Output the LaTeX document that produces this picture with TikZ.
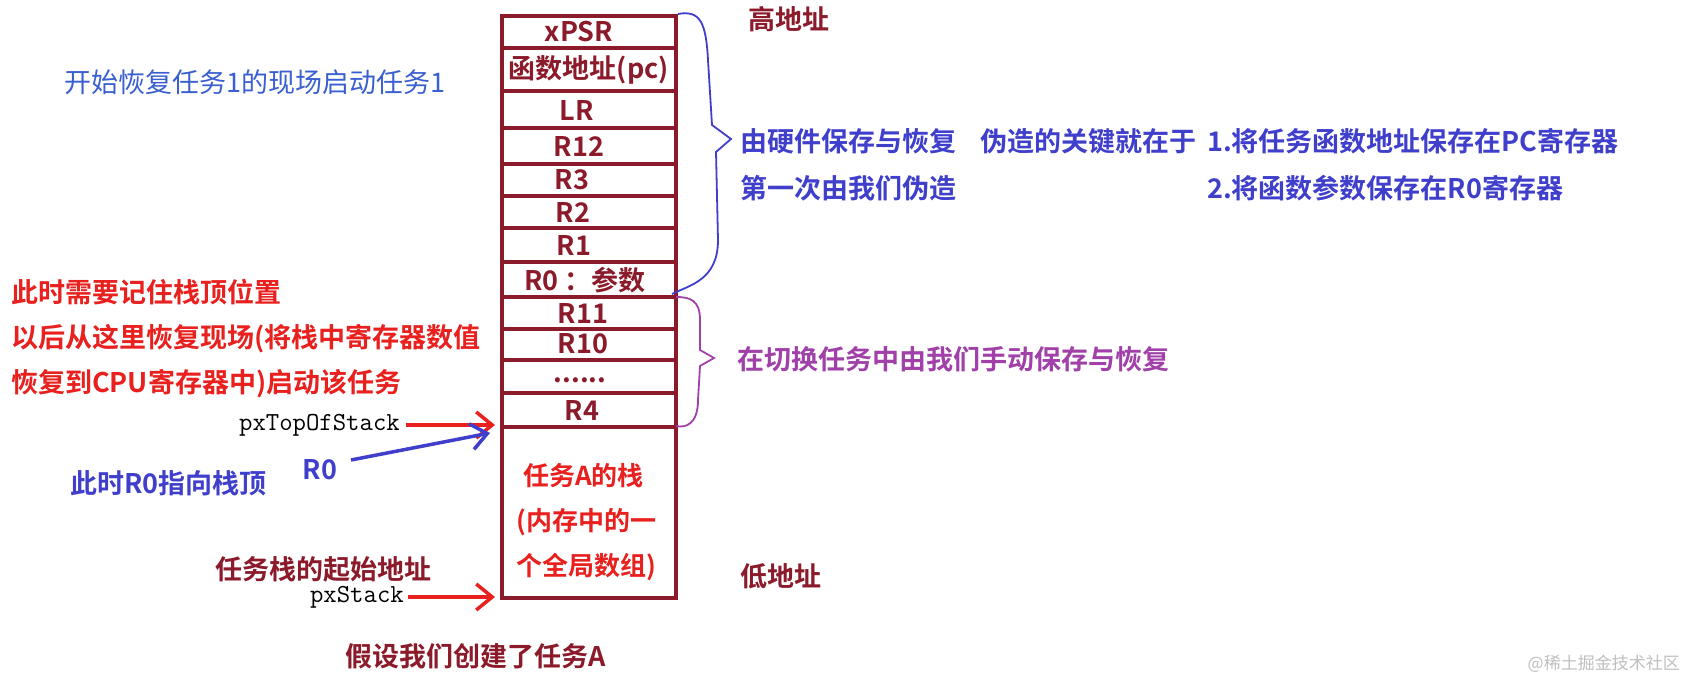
\documentclass[tikz,border=0pt]{standalone}
\usepackage{fontspec}
\setmainfont{Noto Sans CJK SC}
\newfontfamily\cjkb{Noto Sans CJK SC Bold}
\usetikzlibrary{arrows.meta}
\definecolor{dred}{HTML}{8B1A2A}
\definecolor{myblue}{HTML}{3F3FCC}
\definecolor{lblue}{HTML}{3A5FD0}
\definecolor{myred}{HTML}{E8201E}
\definecolor{mypur}{HTML}{A040A8}
\tikzset{
 reg/.style={font=\cjkb\fontsize{27}{29}\selectfont,text=dred,inner sep=0pt},
 rowline/.style={draw=dred,line width=4pt},
 bt/.style={font=\cjkb\fontsize{27}{30}\selectfont,inner sep=0pt,anchor=west},
 code/.style={font=\ttfamily\fontsize{26}{28}\selectfont,inner sep=0pt},
 arr/.style={line width=3.5pt,-{Straight Barb[length=16pt,width=26pt,line width=3.5pt]}}
}
\begin{document}
\begin{tikzpicture}[x=1pt,y=-1pt]
\useasboundingbox[fill=white] (0,0) rectangle (1684,679);
% stack box
\draw[rowline] (502,16) rectangle (676,598);
\foreach \y in {48,91,128,164,196,228,262,297,329,360,393,427}
  \draw[rowline] (502,\y) -- (676,\y);
\node[reg] (xpsr) at (579,32) {xPSR};
\node[reg] (pc) at (589,70) {函数地址(pc)};
\node[reg] (lr) at (577,110) {LR};
\node[reg] (r12) at (579,146) {R12};
\node[reg] (r3) at (572,180) {R3};
\node[reg] (r2) at (573,212) {R2};
\node[reg] (r1) at (574,245) {R1};
\node[reg] (r0) at (585,280) {R0 ：参数};
\node[reg] (r11) at (583,313) {R11};
\node[reg] (r10) at (583,344) {R10};
\node[reg,anchor=base] (dots) at (580,382) {......};
\node[reg] (r4) at (582,410) {R4};
\node[bt,text=myred,align=left,font=\cjkb\fontsize{26}{45}\selectfont] (stk) at (516,522) {\hspace*{7pt}任务A的栈\\(内存中的一\\个全局数组)};
% braces
\draw[myblue,line width=1.8pt] (678,14) .. controls (700,10) and (706,22) .. (708,60) -- (712,125) -- (731,139) -- (716,152) -- (718,240) .. controls (718,280) and (690,285) .. (672,294);
\draw[mypur,line width=1.8pt] (676,297) .. controls (690,297) and (700,300) .. (700,320) -- (700,350) -- (714,358) -- (700,366) -- (698,400) .. controls (698,425) and (685,428) .. (676,426);
% right texts
\node[bt,text=dred] (hi) at (748,19) {高地址};
\node[bt,text=dred] (lo) at (740,576) {低地址};
\node[bt,text=myblue] (hw) at (740,141) {由硬件保存与恢复};
\node[bt,text=myblue] (fake) at (740,188) {第一次由我们伪造};
\node[bt,text=myblue] (key) at (980,141) {伪造的关键就在于};
\node[bt,text=myblue] (k1) at (1207,141) {1.将任务函数地址保存在PC寄存器};
\node[bt,text=myblue] (k2) at (1207,188) {2.将函数参数保存在R0寄存器};
\node[bt,text=mypur] (man) at (737,359) {在切换任务中由我们手动保存与恢复};
% left texts
\node[anchor=west,inner sep=0pt,text=lblue,font=\fontsize{27}{30}\selectfont] (start) at (64,82) {开始恢复任务1的现场启动任务1};
\node[bt,text=myred] (m1) at (11,292) {此时需要记住栈顶位置};
\node[bt,text=myred] (m2) at (11,339) {以后从这里恢复现场(将栈中寄存器数值};
\node[bt,text=myred] (m3) at (11,384) {恢复到CPU寄存器中)启动该任务};
\node[code,anchor=east] (top) at (400,425) {pxTopOfStack};
\node[bt,anchor=center,text=myblue] (r0l) at (320,470) {R0};
\node[bt,text=myblue] (r0t) at (70,483) {此时R0指向栈顶};
\node[bt,text=dred] (base) at (215,569) {任务栈的起始地址};
\node[code,anchor=east] (pxs) at (404,597) {pxStack};
\node[bt,anchor=center,text=dred] (cr) at (476,656) {假设我们创建了任务A};
\node[anchor=east,inner sep=0pt,text=black!25,font=\fontsize{17}{19}\selectfont] (wm) at (1680,664) {@稀土掘金技术社区};
% arrows
\coordinate (tA) at (495,425);
\coordinate (tB) at (490,433);
\coordinate (sA) at (495,597);
\draw[arr,myred] ([xshift=6pt]top.east) -- (tA);
\draw[arr,myblue] (351,460) -- (tB);
\draw[arr,myred] ([xshift=4pt]pxs.east) -- (sA);
\end{tikzpicture}
\end{document}
